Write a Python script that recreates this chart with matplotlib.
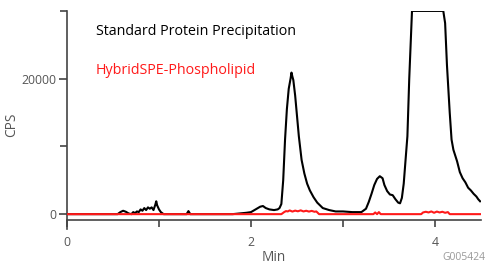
import matplotlib.pyplot as plt
from matplotlib.ticker import MultipleLocator, FixedLocator

plt.rcParams["font.family"] = ["Open Sans", "DejaVu Sans"]

# Standard protein precipitation trace (Min, CPS)
t_spp = [0.00, 0.55, 0.58, 0.61, 0.64, 0.67, 0.70, 0.72, 0.74, 0.76, 0.78, 0.80,
         0.82, 0.84, 0.86, 0.88, 0.90, 0.92, 0.94, 0.96, 0.97, 0.98, 1.00, 1.02,
         1.05, 1.30, 1.32, 1.34, 1.80, 1.95, 2.00, 2.05, 2.10, 2.13, 2.16, 2.20,
         2.25, 2.29, 2.31, 2.33, 2.35, 2.37, 2.39, 2.41, 2.43, 2.44, 2.45, 2.46,
         2.48, 2.50, 2.52, 2.55, 2.58, 2.61, 2.64, 2.68, 2.72, 2.78, 2.85, 2.92,
         3.00, 3.10, 3.20, 3.25, 3.28, 3.31, 3.34, 3.37, 3.40, 3.43, 3.45, 3.48,
         3.51, 3.54, 3.57, 3.60, 3.62, 3.64, 3.66, 3.68, 3.70, 3.72, 3.75, 3.90,
         4.05, 4.09, 4.11, 4.13, 4.16, 4.18, 4.20, 4.24, 4.27, 4.30, 4.33, 4.36,
         4.39, 4.42, 4.45, 4.47, 4.49]
cps_spp = [0, 0, 300, 500, 350, 100, 0, 300, 150, 400, 300, 700,
           500, 900, 600, 1000, 800, 1000, 600, 1400, 1900, 1300, 700, 300,
           0, 0, 450, 0, 0, 200, 300, 700, 1100, 1200, 900, 700,
           600, 700, 900, 1500, 5000, 11000, 15500, 18500, 20000, 20900, 20300, 19800,
           17500, 14500, 11500, 8000, 6000, 4500, 3500, 2500, 1700, 900, 600, 400,
           400, 300, 300, 800, 1800, 3000, 4300, 5200, 5600, 5300, 4300, 3400,
           2900, 2800, 2200, 1700, 1600, 2400, 4500, 8000, 11500, 20000, 30000, 30000,
           30000, 30000, 28200, 22000, 15000, 11000, 9500, 7800, 6200, 5300, 4700, 3900,
           3500, 3000, 2600, 2200, 1900]

# HybridSPE-Phospholipid trace (Min, CPS)
t_hyb = [0.00, 2.33, 2.36, 2.38, 2.40, 2.42, 2.45, 2.48, 2.51, 2.54, 2.57, 2.60,
         2.63, 2.66, 2.69, 2.71, 2.74, 3.33, 3.35, 3.37, 3.39, 3.41, 3.43, 3.85,
         3.87, 3.90, 3.93, 3.96, 3.99, 4.02, 4.05, 4.08, 4.11, 4.14, 4.16, 4.49]
cps_hyb = [0, 0, 300, 450, 400, 550, 380, 520, 420, 560, 400, 500,
           380, 480, 350, 400, 0, 0, 250, 0, 300, 0, 0, 0,
           250, 350, 250, 400, 200, 380, 250, 350, 200, 300, 0, 0]

fig = plt.figure(figsize=(5.0, 2.73), dpi=100)
ax = fig.add_axes([0.134, 0.161, 0.828, 0.799])

ax.plot(t_spp, cps_spp, color="black", lw=1.5, zorder=2)
ax.plot(t_hyb, cps_hyb, color="#ff1a1a", lw=1.5, zorder=3)

ax.set_xlim(0, 4.5)
ax.set_ylim(-2200, 30000)

ax.spines["top"].set_visible(False)
ax.spines["right"].set_visible(False)
ax.spines["bottom"].set_position(("data", -900))
for s in ("left", "bottom"):
    ax.spines[s].set_color("#444444")
    ax.spines[s].set_linewidth(1.2)

ax.yaxis.set_major_locator(FixedLocator([0, 20000]))
ax.yaxis.set_minor_locator(FixedLocator([10000, 30000]))
ax.xaxis.set_major_locator(MultipleLocator(2))
ax.xaxis.set_minor_locator(MultipleLocator(1))
ax.tick_params(which="both", direction="out", color="#444444", width=1.2,
               labelcolor="#555555", labelsize=8.8)
ax.tick_params(axis="y", which="major", length=6, pad=2)
ax.tick_params(axis="y", which="minor", length=5)
ax.tick_params(axis="x", which="both", length=5, pad=6)

ax.set_xlabel("Min", color="#555555", fontsize=9.8, labelpad=1)
ax.set_ylabel("CPS", color="#555555", fontsize=9.8)
ax.yaxis.set_label_coords(-0.115, 0.48)

ax.text(0.07, 0.904, "Standard Protein Precipitation", transform=ax.transAxes,
        fontsize=10.3, color="black", va="center", ha="left")
ax.text(0.07, 0.729, "HybridSPE-Phospholipid", transform=ax.transAxes,
        fontsize=10.3, color="#ff1a1a", va="center", ha="left")
fig.text(0.97, 0.055, "G005424", color="#999999", fontsize=7.5, ha="right", va="center")

fig.savefig("out.png", dpi=100)
